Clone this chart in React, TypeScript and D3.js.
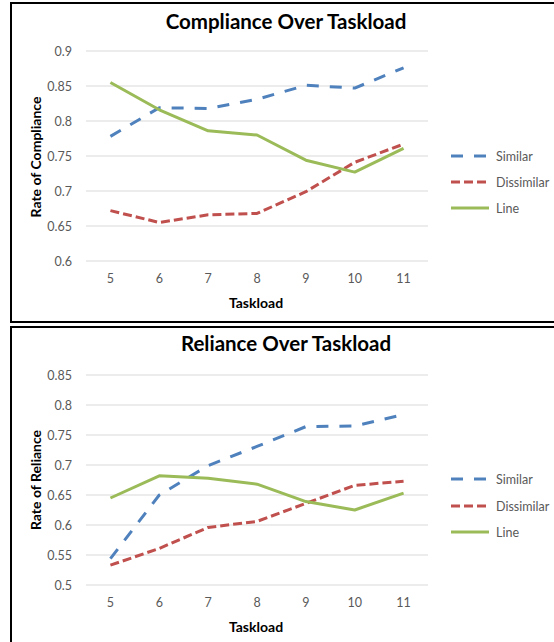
import React from "react";
import * as d3 from "d3";

const categories = ["5", "6", "7", "8", "9", "10", "11"];
const seriesNames = ["Similar", "Dissimilar", "Line"];

const complianceSimilar = [0.778, 0.819, 0.818, 0.831, 0.851, 0.847, 0.876];
const complianceDissimilar = [0.672, 0.655, 0.666, 0.668, 0.699, 0.741, 0.767];
const complianceLine = [0.855, 0.816, 0.786, 0.780, 0.744, 0.727, 0.761];
const complianceTicks = [0.6, 0.65, 0.7, 0.75, 0.8, 0.85, 0.9];

const relianceSimilar = [0.544, 0.650, 0.699, 0.731, 0.764, 0.765, 0.784];
const relianceDissimilar = [0.533, 0.561, 0.596, 0.606, 0.636, 0.666, 0.673];
const relianceLine = [0.645, 0.682, 0.678, 0.668, 0.639, 0.625, 0.653];
const relianceTicks = [0.5, 0.55, 0.6, 0.65, 0.7, 0.75, 0.8, 0.85];

const COLORS = ["#4F81BD", "#C0504D", "#9BBB59"];
const DASHES = ["12,11", "9,4", null];
const FONT = "Lato, 'Open Sans', sans-serif";

type PanelProps = {
  top: number;
  title: string;
  yTitle: string;
  ticks: number[];
  series: number[][];
  yTop: number;
  yBottom: number;
  legendY: number[];
  tickLabelY: number;
  axisTitleY: number;
  titleY: number;
  yTitleY: number;
};

function fmt(v: number) {
  return String(+v.toFixed(2));
}

function Panel(p: PanelProps) {
  const x = d3.scaleBand<string>().domain(categories).range([86, 428]);
  const y = d3
    .scaleLinear()
    .domain([p.ticks[0], p.ticks[p.ticks.length - 1]])
    .range([p.yBottom, p.yTop]);
  const cx = (c: string) => (x(c) as number) + x.bandwidth() / 2;
  const line = d3
    .line<number>()
    .x((_, i) => cx(categories[i]))
    .y((d) => y(d));

  return (
    <g>
      <rect
        x={11}
        y={p.top}
        width={600}
        height={700}
        fill="none"
        stroke="#000"
        strokeWidth={2}
      />
      {p.ticks.map((t) => (
        <g key={t}>
          <line x1={86} x2={428} y1={y(t)} y2={y(t)} stroke="#D9D9D9" strokeWidth={1} />
          <text
            x={72}
            y={y(t)}
            textAnchor="end"
            dominantBaseline="central"
            fontSize={12.5}
            fill="#595959"
            fontFamily={FONT}
          >
            {fmt(t)}
          </text>
        </g>
      ))}
      {categories.map((c) => (
        <text
          key={c}
          x={cx(c)}
          y={p.tickLabelY}
          textAnchor="middle"
          dominantBaseline="central"
          fontSize={12.5}
          fill="#595959"
          fontFamily={FONT}
        >
          {c}
        </text>
      ))}
      {p.series.map((s, i) => (
        <path
          key={i}
          d={line(s) || ""}
          fill="none"
          stroke={COLORS[i]}
          strokeWidth={3}
          strokeDasharray={DASHES[i] || undefined}
          strokeLinejoin="round"
        />
      ))}
      <text
        x={286}
        y={p.titleY}
        textAnchor="middle"
        dominantBaseline="central"
        fontSize={20.5}
        fontWeight="bold"
        fill="#000"
        fontFamily={FONT}
      >
        {p.title}
      </text>
      <text
        x={256}
        y={p.axisTitleY}
        textAnchor="middle"
        dominantBaseline="central"
        fontSize={14}
        fontWeight="bold"
        fill="#000"
        fontFamily={FONT}
      >
        Taskload
      </text>
      <text
        transform={`translate(35,${p.yTitleY}) rotate(-90)`}
        textAnchor="middle"
        dominantBaseline="central"
        fontSize={14}
        fontWeight="bold"
        fill="#000"
        fontFamily={FONT}
      >
        {p.yTitle}
      </text>
      {seriesNames.map((n, i) => (
        <g key={n}>
          <line
            x1={451}
            x2={489}
            y1={p.legendY[i]}
            y2={p.legendY[i]}
            stroke={COLORS[i]}
            strokeWidth={3}
            strokeDasharray={DASHES[i] || undefined}
          />
          <text
            x={496}
            y={p.legendY[i]}
            dominantBaseline="central"
            fontSize={12.5}
            fill="#595959"
            fontFamily={FONT}
          >
            {n}
          </text>
        </g>
      ))}
    </g>
  );
}

export default function App() {
  return (
    <svg
      width={554}
      height={642}
      style={{ position: "absolute", left: 0, top: 0, background: "#fff" }}
    >
      <rect x={0} y={0} width={554} height={642} fill="#fff" />
      <Panel
        top={3}
        title="Compliance Over Taskload"
        yTitle="Rate of Compliance"
        ticks={complianceTicks}
        series={[complianceSimilar, complianceDissimilar, complianceLine]}
        yTop={51}
        yBottom={261}
        legendY={[156, 182, 208]}
        tickLabelY={278}
        axisTitleY={302}
        titleY={21}
        yTitleY={157}
      />
      <rect x={0} y={323} width={554} height={3} fill="#fff" />
      <line x1={11} x2={554} y1={322} y2={322} stroke="#000" strokeWidth={2} />
      <Panel
        top={327}
        title="Reliance Over Taskload"
        yTitle="Rate of Reliance"
        ticks={relianceTicks}
        series={[relianceSimilar, relianceDissimilar, relianceLine]}
        yTop={375}
        yBottom={585}
        legendY={[479, 506, 532]}
        tickLabelY={602}
        axisTitleY={626}
        titleY={343}
        yTitleY={480}
      />
    </svg>
  );
}
